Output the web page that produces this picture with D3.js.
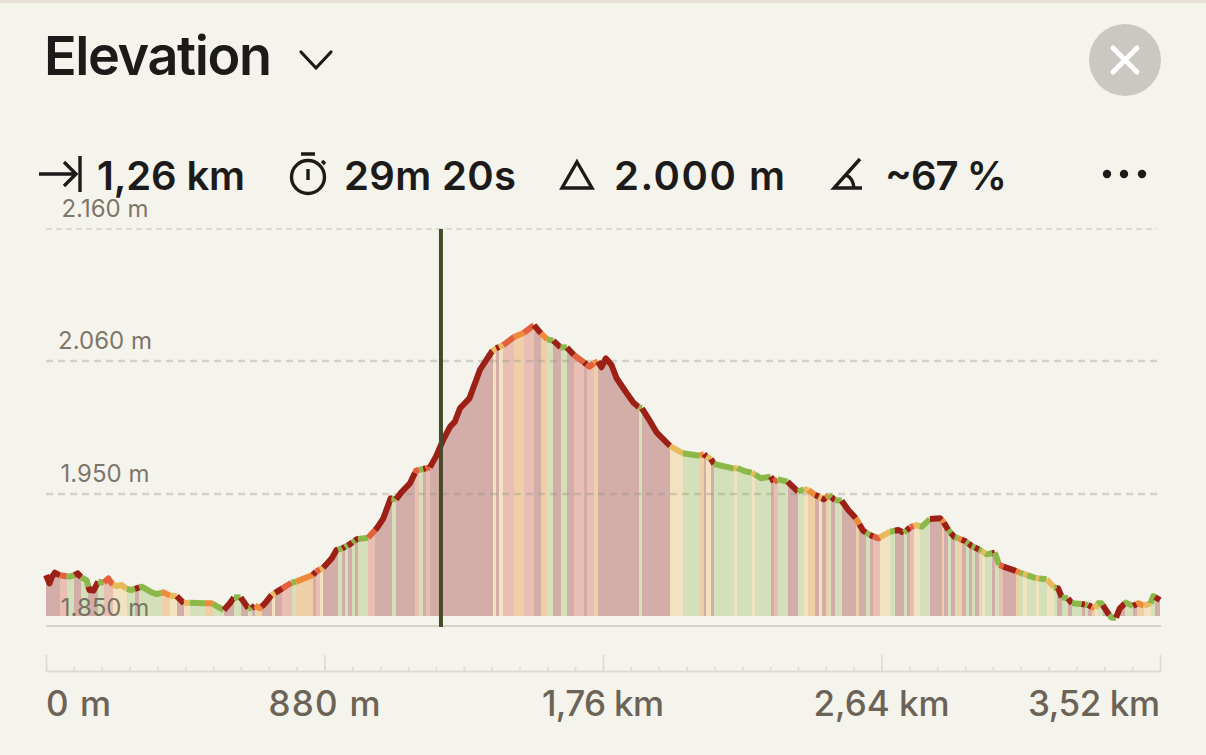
<!DOCTYPE html>
<html><head><meta charset="utf-8">
<script src="https://cdn.jsdelivr.net/npm/d3@7"></script>
<style>
html,body{margin:0;padding:0;background:#f4f3ec;overflow:hidden}
svg{display:block}
text{font-family:Inter,"Open Sans",sans-serif}
</style></head><body>
<svg id="c" width="1206" height="755"></svg>
<script>
// profile: distance (m) and elevation (m)
const distances=[0,11,19,28,44,60,74,90,100,111,128,137,150,165,183,197,211,225,239,255,271,286,302,334,350,371,392,413,436,455,502,523,562,581,594,615,639,650,660,676,692,713,747,776,790,843,853,876,903,918,936,961,982,1018,1045,1066,1089,1106,1124,1150,1169,1200,1213,
1232,1255,1277,1292,1308,1338,1371,1408,1422,1445,1477,1510,1542,1564,1584,1603,1626,1646,1668,1700,1717,1731,1744,1755,1769,1787,1803,1835,1856,1873,1883,1903,1930,1972,2012,2066,2079,2087,2101,2111,2174,2184,2209,2230,2259,2290,2300,2312,2343,2376,
2395,2409,2430,2442,2457,2474,2493,2514,2535,2559,2582,2603,2630,2667,2693,2711,2730,2751,2767,2793,2825,2837,2851,2869,2888,2904,2925,2951,2972,2998,3012,3025,3062,3083,3130,3162,3185,3198,3210,3229,3242,3272,3293,3314,3325,3335,3356,3367,3381,3393,3412,3435,3451,3469,3490,3499,3520];
const elevations=[1888.6,1882.3,1887.4,1890.4,1888.4,1887.9,1887.4,1888.6,1889.9,1886.9,1884.8,1877.3,1876.8,1883.6,1882.8,1886.1,1881.1,1880.3,1881.1,1878,1877.3,1878.5,1879.8,1875.5,1874.2,1875.5,1873,1872.7,1867.2,1867.7,1867.2,1867.2,1862.1,1867.2,1871.7,1871.7,1863.4,1863.4,1865.4,1863.4,1867.2,1873.5,1878.5,1882.8,1883.6,1888.6,1891.2,1894.2,1901.3,1907.6,1908.8,1912.1,1915.7,1916.9,1924,1931.6,1946.7,1945.9,1951.8,1958.8,1969.3,1971.2,1972,
1980.9,1994.7,2005.7,2009.8,2020.9,2029.1,2052.6,2067,2069.6,2072.1,2077.9,2081.4,2087.2,2080.9,2076.4,2075.4,2070.3,2070.3,2064.5,2058.9,2055.3,2058.1,2059.5,2054.8,2062,2056.7,2045.7,2033.3,2025.6,2021.7,2020.9,2012.6,2000.7,1989.7,1983.7,1981.7,1983.1,1980.9,1979,1974.8,1971,1971.5,1968.8,1967.7,1963,1964.4,1959.9,1962.1,1960.2,1951.9,
1953.9,1953.3,1949.2,1948,1946,1949.2,1945.4,1944.9,1937.9,1931.6,1922.2,1918.9,1916.4,1921.5,1922.7,1920.7,1924.7,1926.5,1925.2,1931,1931.6,1928.5,1922.7,1917.7,1915.9,1914.4,1910.6,1907.6,1904.3,1905.6,1896.2,1895,1891.9,1889.9,1886.1,1885.4,1879.3,1878.5,1871.7,1871,1867.2,1866.7,1865.9,1863.4,1867.2,1867.2,1859.6,1856.3,1856.3,1863.4,1867.7,1865.2,1867.2,1865.4,1867.2,1872.7,1869.7];
// grade bands: end distance of each band and its steepness class
const bandEnds=[44,65,90,111,134,165,183,211,255,281,295,365,392,413,436,455,502,527,562,594,615,639,650,660,681,713,724,747,776,790,843,853,866,876,923,936,945,953,968,976,987,1018,1040,1092,1106,1166,1179,1192,1200,1213,
1411,1422,1432,1445,1479,1510,1542,1564,1584,1603,1626,1646,1668,1700,1708,1731,1744,1873,1883,1972,2012,2066,2079,2087,2101,2111,2174,2184,2230,2240,2290,2300,2312,2343,2376,
2395,2409,2430,2442,2451,2464,2474,2482,2493,2514,2559,2570,2591,2603,2614,2635,2667,2682,2711,2719,2730,2742,2761,2793,2830,2837,2851,2859,2872,2882,2893,2907,2915,2926,2935,2948,2956,2968,2989,2998,3012,3025,3065,3079,3088,3100,3128,3138,3162,3185,3193,3210,3229,3242,3272,3283,3293,3304,3314,3323,3339,3360,3381,3409,3435,3446,3469,3490,3504,3520];
const bandGrades="d r g d g d g r y g d g o y d y g o g d g d g d o d y d r g o d r y d g d g d g d g r d g d r g d r d y d y r o r d o g d g d r d r o d g d y g o d y d g y g y g d r g d g y o d y d o g d g d o d g d r y g d g d r y g d o d g d g o d g d g d g y g d g r d o g y g y g y g d g d g d g d o y g d g d g d o y g d g o d g".split(" ");
const gradeLine={d:"#9c2015",r:"#e2603a",o:"#ee8a3a",y:"#e8ba5c",g:"#8cb84a"};
const gradeFill={d:"#d3aea8",r:"#e9bfb3",o:"#efcfa8",y:"#f2e2bf",g:"#d3e0b9"};
const yTicks=[2160,2060,1950,1850];
const yLabels=["2.160 m","2.060 m","1.950 m","1.850 m"];
const xMajor=[0,880,1760,2640,3520];
const xLabels=["0 m","880 m","1,76 km","2,64 km","3,52 km"];
const xMinor=d3.range(0,3521,88);
const cursorDist=1248, baseElev=1857.6;
const stats=["1,26 km","29m 20s","2.000 m","~67 %"];

const svg=d3.select("#c");
const x=d3.scaleLinear().domain([0,3520]).range([46,1160]);
const y=d3.scaleLinear().domain([1850,1950,2060,2160]).range([626,494,361,229]);
const elevAt=d3.scaleLinear().domain(distances).range(elevations);
const ink="#1c1b19", muted="#6c6357";

svg.append("rect").attr("width",1206).attr("height",3).attr("fill","#e6dfd5");

// title
svg.append("text").attr("x",44).attr("y",75).attr("font-size",54).attr("font-weight",600)
  .attr("letter-spacing",-1.4).attr("fill",ink).text("Elevation");
svg.append("path").attr("d","M301,52 L316,68 L331,52").attr("fill","none").attr("stroke",ink)
  .attr("stroke-width",3.2).attr("stroke-linecap","round").attr("stroke-linejoin","round");
// close
svg.append("circle").attr("cx",1125).attr("cy",60).attr("r",36).attr("fill","#cbc8c1");
svg.append("path").attr("d","M1113,48 L1137,72 M1137,48 L1113,72").attr("stroke","#fff").attr("stroke-width",5).attr("stroke-linecap","round");

// stats
const sx=[97,344,614,885], sw=[148,172,171,122];
svg.selectAll(".stat").data(stats).join("text").attr("class","stat").attr("x",(d,i)=>sx[i]).attr("y",190)
  .attr("font-size",40).attr("font-weight",600).attr("fill",ink)
  .attr("textLength",(d,i)=>sw[i]).attr("lengthAdjust","spacing").text(d=>d);
const ic=svg.append("g").attr("fill","none").attr("stroke",ink).attr("stroke-width",3.4);
ic.append("path").attr("d","M39,174 H76 M64,162 L76,174 L64,186");
ic.append("path").attr("d","M80,156 V192");
ic.append("circle").attr("cx",308).attr("cy",177).attr("r",16.5);
ic.append("path").attr("d","M301,154 H315 M308,169 V180 M322,161 L325,164");
ic.append("path").attr("d","M577,162 L592,188 H562 Z");
ic.append("path").attr("d","M860,159 L834,188 H862 M846,175 Q853,178 854,188");
svg.selectAll(".dot").data([1107,1124,1142]).join("circle").attr("class","dot").attr("cx",d=>d).attr("cy",174).attr("r",4.2).attr("fill",ink);

// bands & profile
const bands=bandEnds.map((e,i)=>{
  const a=i?bandEnds[i-1]:0;
  return {a,b:e,g:bandGrades[i],pts:[a,...distances.filter(d=>d>a&&d<e),e]};
});
const area=d3.area().x(d=>x(d)).y1(d=>y(elevAt(d))).y0(y(baseElev));
const line=d3.line().x(d=>x(d)).y(d=>y(elevAt(d)));
svg.append("g").selectAll("path").data(bands).join("path").attr("d",d=>area(d.pts))
  .attr("fill",d=>gradeFill[d.g]).attr("shape-rendering","crispEdges");

// grid
svg.append("g").selectAll("line").data(yTicks.slice(0,3)).join("line")
  .attr("x1",46).attr("x2",1157).attr("y1",d=>y(d)).attr("y2",d=>y(d))
  .attr("stroke","#8f8a7c").attr("stroke-opacity",.32)
  .attr("stroke-width",(d,i)=>i?2.4:1.6).attr("stroke-dasharray",(d,i)=>i?"7 5":"6 4");
svg.append("line").attr("x1",46).attr("x2",1161).attr("y1",y(1850)).attr("y2",y(1850)).attr("stroke","#d6d2c8").attr("stroke-width",2);

svg.append("g").selectAll("path").data(bands).join("path").attr("d",d=>line(d.pts))
  .attr("fill","none").attr("stroke",d=>gradeLine[d.g]).attr("stroke-width",6)
  .attr("stroke-linejoin","round").attr("stroke-linecap","butt");

// y labels
svg.append("g").selectAll("text").data(yTicks).join("text").attr("x",105).attr("y",(d,i)=>y(d)-(i==3?10:12))
  .attr("text-anchor","middle").attr("font-size",24).attr("fill","#6e6558").attr("fill-opacity",.9).text((d,i)=>yLabels[i]);

// cursor
svg.append("line").attr("x1",x(cursorDist)).attr("x2",x(cursorDist)).attr("y1",y(2160)).attr("y2",y(1850)+1)
  .attr("stroke","#454a2c").attr("stroke-width",4);

// ruler axis
const rs=(sel)=>{sel.select(".domain").attr("stroke","#dfdacf").attr("stroke-width",1.6);
  sel.selectAll(".tick line").attr("stroke","#dfdacf").attr("stroke-width",1.6);sel.selectAll(".tick text").remove();};
svg.append("g").attr("transform","translate(0,671)").call(d3.axisTop(x).tickValues(xMinor).tickSize(4).tickSizeOuter(0).tickFormat("")).call(rs);
svg.append("g").attr("transform","translate(0,671)").call(d3.axisTop(x).tickValues(xMajor).tickSize(16).tickSizeOuter(0).tickFormat("")).call(rs);
const xw=[65,112,122,136,132];
svg.append("g").selectAll("text").data(xMajor).join("text").attr("x",d=>x(d)).attr("y",716)
  .attr("text-anchor",(d,i)=>i==0?"start":i==4?"end":"middle").attr("font-size",35).attr("font-weight",500)
  .attr("textLength",(d,i)=>xw[i]).attr("lengthAdjust","spacing")
  .attr("fill",muted).text((d,i)=>xLabels[i]);
</script></body></html>
